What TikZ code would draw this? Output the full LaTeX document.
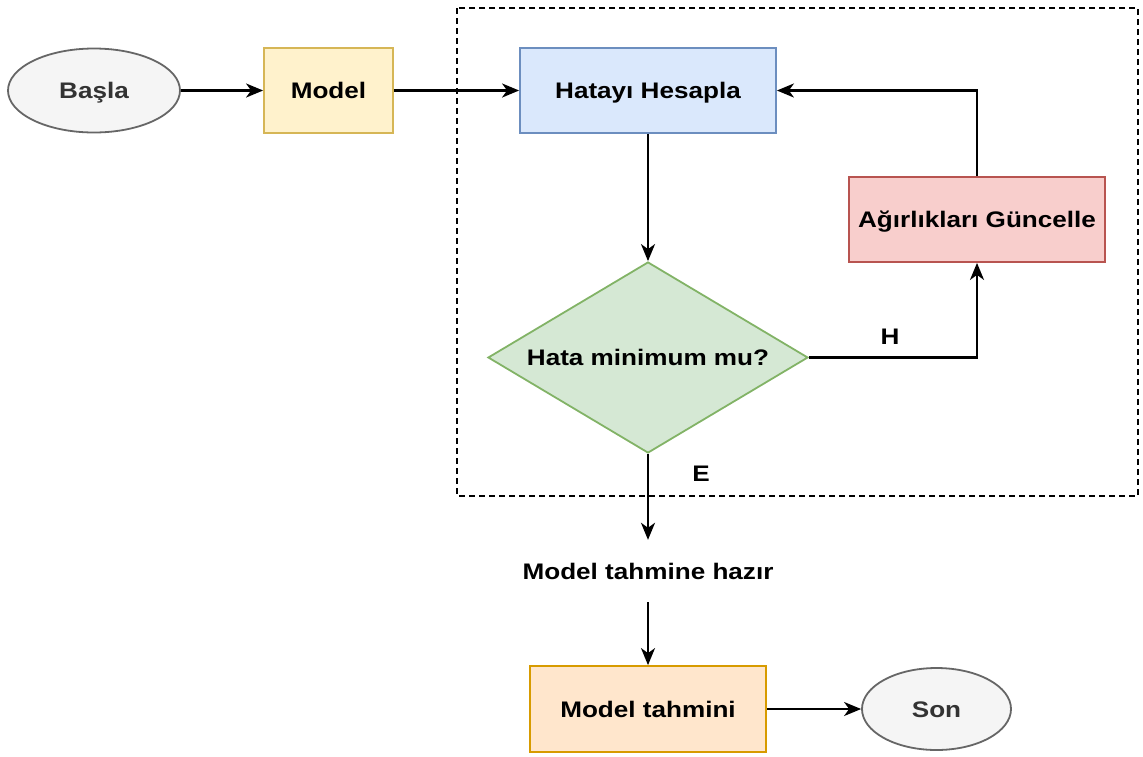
\documentclass[tikz,border=0pt]{standalone}
\usepackage{fontspec}
\setmainfont{Liberation Sans}[FakeStretch=1.16]
\usetikzlibrary{shapes.geometric,arrows.meta}
\definecolor{ylwF}{HTML}{FFF2CC}\definecolor{ylwD}{HTML}{D6B656}
\definecolor{bluF}{HTML}{DAE8FC}\definecolor{bluD}{HTML}{6C8EBF}
\definecolor{grnF}{HTML}{D5E8D4}\definecolor{grnD}{HTML}{82B366}
\definecolor{redF}{HTML}{F8CECC}\definecolor{redD}{HTML}{B85450}
\definecolor{orgF}{HTML}{FFE6CC}\definecolor{orgD}{HTML}{D79B00}
\definecolor{gryF}{HTML}{F5F5F5}\definecolor{gryD}{HTML}{666666}
\definecolor{gryT}{HTML}{333333}
\tikzset{
  lbl/.style={font=\fontsize{22.5}{26}\selectfont\bfseries, text height=16pt, text depth=0pt},
  boxnode/.style={draw, line width=1.8pt, rectangle, inner sep=0pt, lbl},
  ovalnode/.style={draw=gryD, fill=gryF, text=gryT, ellipse, line width=1.8pt, inner sep=0pt, lbl},
  conn/.style={line width=2.2pt, -{Stealth[length=17pt,width=14pt,inset=5pt]}},
}
\begin{document}
\begin{tikzpicture}[x=1pt,y=-1pt]
\useasboundingbox (0,0) rectangle (1143,756);
\draw[line width=2pt, dash pattern=on 6pt off 4pt] (457,8) rectangle (1138,496);
\node[ovalnode, minimum width=172pt, minimum height=84pt] (start) at (94,90.5) {Başla};
\node[boxnode, draw=ylwD, fill=ylwF, minimum width=129pt, minimum height=85pt] (model) at (328.5,90.5) {Model};
\node[boxnode, draw=bluD, fill=bluF, minimum width=256pt, minimum height=85pt] (calc) at (648,90.5) {Hatayı Hesapla};
\node[boxnode, draw=redD, fill=redF, minimum width=256pt, minimum height=85pt] (upd) at (977,219.5) {Ağırlıkları Güncelle};
\node[draw=grnD, fill=grnF, diamond, shape aspect=1.675, line width=1.8pt, inner sep=0pt, minimum width=320pt, minimum height=191pt, lbl] (dec) at (648,357.5) {Hata minimum mu?};
\node[lbl, inner sep=0pt, minimum height=62pt] (ready) at (648,571) {Model tahmine hazır};
\node[boxnode, draw=orgD, fill=orgF, minimum width=236pt, minimum height=86pt] (pred) at (648,709) {Model tahmini};
\node[ovalnode, minimum width=149pt, minimum height=82pt] (end) at (936.5,709) {Son};
\coordinate (hk) at (977,357.5);
\coordinate (uk) at (977,90.5);
\draw[conn] (start) -- (model);
\draw[conn] (model) -- (calc);
\draw[conn] (calc) -- (dec);
\draw[conn] (dec.east) -- (hk) -- (upd.south);
\draw[conn] (upd.north) -- (uk) -- (calc.east);
\draw[conn] (dec.south) -- (ready.north);
\draw[conn] (ready.south) -- (pred.north);
\draw[conn] (pred) -- (end);
\node[lbl, inner sep=0pt] (hl) at (890,336) {H};
\node[lbl, inner sep=0pt] (el) at (701,473) {E};
\end{tikzpicture}
\end{document}
